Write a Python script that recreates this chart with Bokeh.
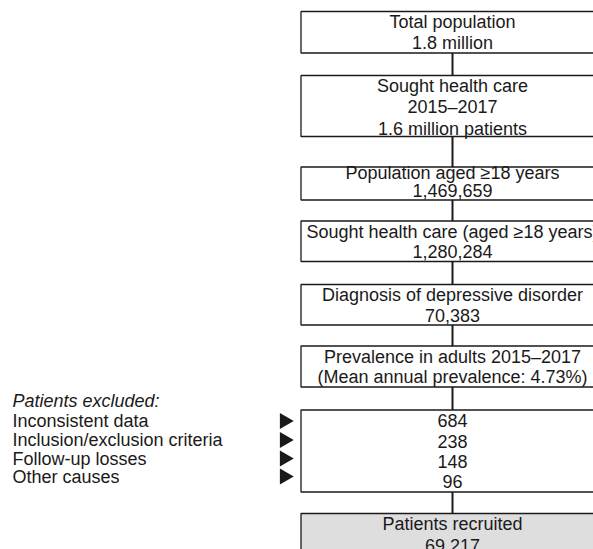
from bokeh.plotting import figure
from bokeh.models import Range1d
from bokeh.core.properties import value
from bokeh.embed import file_html
from bokeh.resources import INLINE
import math

# ---- data (texts and counts) ----
box_lines = [
    ["Total population", "1.8 million"],
    ["Sought health care", "2015\u20132017", "1.6 million patients"],
    ["Population aged \u226518 years", "1,469,659"],
    ["Sought health care (aged \u226518 years)", "1,280,284"],
    ["Diagnosis of depressive disorder", "70,383"],
    ["Prevalence in adults 2015\u20132017", "(Mean annual prevalence: 4.73%)"],
    ["684", "238", "148", "96"],
    ["Patients recruited", "69,217"],
]
excluded_title = "Patients excluded:"
excluded_causes = ["Inconsistent data", "Inclusion/exclusion criteria",
                   "Follow-up losses", "Other causes"]
excluded_counts = [684, 238, 148, 96]

# ---- layout (pixel coordinates of the reference picture) ----
W, H = 593, 549
box_left, box_right, box_cx = 300.5, 610, 452
box_top = [11, 75, 166.5, 220.5, 284, 345.5, 409.5, 513]
box_bottom = [52.5, 136, 199.5, 261, 324.5, 386.5, 491.5, 580]
line_y = [
    [21.5, 42.5],
    [85, 106.5, 128],
    [172.5, 190],
    [231, 251],
    [294, 314.5],
    [356, 376.5],
    [420, 440.5, 461, 481],
    [523.5, 545],
]
left_x = 12
left_title_y = 400.5
left_y = [420.5, 439.5, 458, 476]
arrow_x = 284
fs = "18px"

p = figure(width=W, height=H, output_backend="svg", toolbar_location=None,
           x_range=Range1d(0, W), y_range=Range1d(H, 0),
           min_border=0, outline_line_color=None)
p.axis.visible = False
p.grid.visible = False
p.background_fill_color = "white"

# connectors
for i in range(len(box_top) - 1):
    p.segment(x0=[box_cx], y0=[box_bottom[i]], x1=[box_cx], y1=[box_top[i + 1]],
              line_color="#1a1a1a", line_width=2)

# boxes
fills = ["white"] * (len(box_top) - 1) + ["#dedede"]
p.quad(left=[box_left] * len(box_top), right=[box_right] * len(box_top),
       top=box_top, bottom=box_bottom, fill_color=fills,
       line_color="#1a1a1a", line_width=1.3)

# box texts
xs, ys, ts = [], [], []
for lines, yy in zip(box_lines, line_y):
    for t, y in zip(lines, yy):
        xs.append(box_cx)
        ys.append(y)
        ts.append(t)
p.text(x=xs, y=ys, text=ts, text_align="center", text_baseline="middle",
       text_font=value("Liberation Sans"), text_font_size=fs,
       text_color="#1a1a1a")

# left exclusion labels
p.text(x=[left_x], y=[left_title_y], text=[excluded_title], text_align="left",
       text_baseline="middle", text_font=value("Liberation Sans"),
       text_font_style="italic", text_font_size=fs, text_color="#1a1a1a")
p.text(x=[left_x] * len(excluded_causes), y=left_y, text=excluded_causes,
       text_align="left", text_baseline="middle",
       text_font=value("Liberation Sans"), text_font_size=fs,
       text_color="#1a1a1a")

# arrows
p.scatter(x=[arrow_x] * len(excluded_counts), y=left_y, marker="triangle",
          size=16, angle=-math.pi / 2, fill_color="#1a1a1a", line_color=None)

open("out.html", "w").write(file_html(p, INLINE))
